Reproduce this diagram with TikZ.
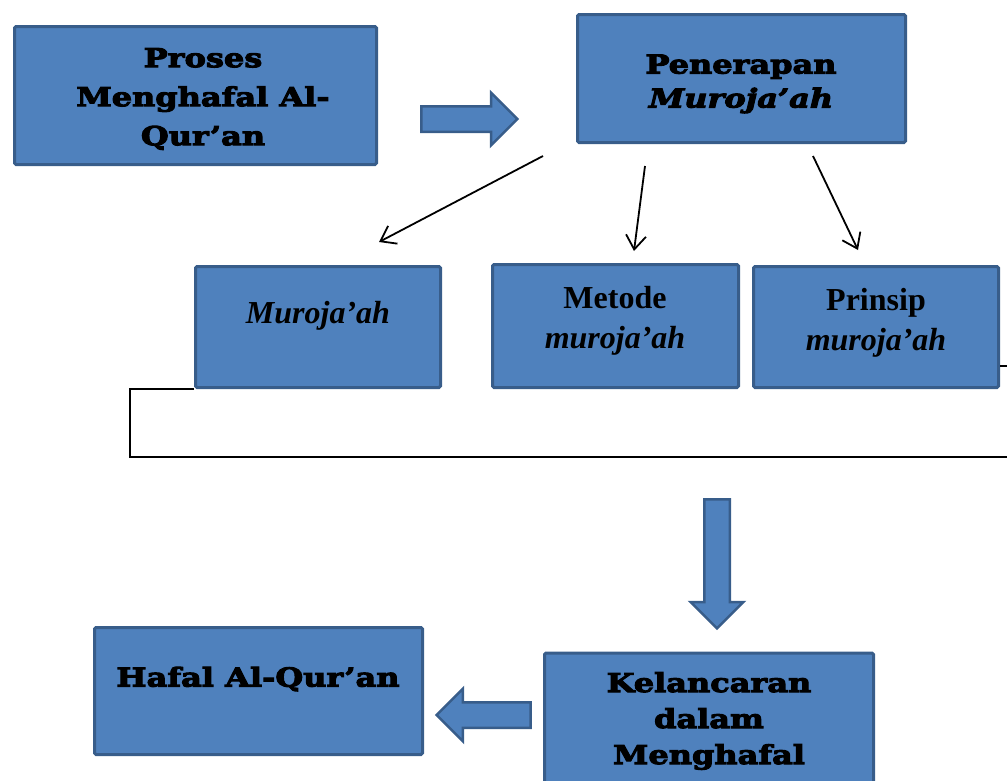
\documentclass[tikz,border=0pt]{standalone}
\usepackage{fontspec}
\setmainfont{Liberation Serif}
\newfontfamily\heavyfont[FakeStretch=1.23,FakeBold=4]{DejaVu Serif}
\usetikzlibrary{arrows.meta,shapes.arrows}
\definecolor{boxfill}{HTML}{4F81BD}
\definecolor{boxline}{HTML}{385D8A}

\begin{document}
\begin{tikzpicture}[
  x=1pt, y=-1pt,
  >={Straight Barb[length=14pt,width=20pt]},
  blockbox/.style={draw=boxline, fill=boxfill, line width=3pt, rounded corners=1.5pt, inner sep=0pt},
  heavytxt/.style={font=\heavyfont\bfseries\fontsize{26}{#1}\selectfont, align=center, inner sep=0pt},
  heavytxt/.default=38,
  timestxt/.style={font=\bfseries\fontsize{32}{40}\selectfont, align=center, inner sep=0pt},
  fatarrow/.style={single arrow, draw=boxline, fill=boxfill, line width=2.5pt, inner sep=11.5pt,
    single arrow head extend=13.5pt},
  thinarrow/.style={->, line width=1.8pt},
  bracketline/.style={line width=1.6pt}
]
  \useasboundingbox (0,0) rectangle (1007,780);

  % boxes
  \node[blockbox, minimum width=362pt, minimum height=138pt] (proses) at (195.5,95.5) {};
  \node[blockbox, minimum width=328pt, minimum height=128pt] (pener) at (741.5,78.5) {};
  \node[blockbox, minimum width=245pt, minimum height=121pt] (mur) at (318,327) {};
  \node[blockbox, minimum width=246pt, minimum height=123pt] (metode) at (615.5,326) {};
  \node[blockbox, minimum width=245pt, minimum height=121pt] (prinsip) at (876,327) {};
  \node[blockbox, minimum width=329pt, minimum height=146pt] (kelan) at (709,726) {};
  \node[blockbox, minimum width=328pt, minimum height=127pt] (hafal) at (258.5,691) {};

  % texts
  \node[heavytxt=39] (proses-t) at (203,99) {Proses\\Menghafal Al-\\Qur’an};
  \node[heavytxt=34, text depth=0pt] (pener-t) at (741,81) {Penerapan\\\itshape Muroja’ah};
  \node[timestxt] (mur-t) at (318,316) {\itshape Muroja’ah};
  \node[timestxt] (metode-t) at (615,321) {Metode\\\itshape muroja’ah};
  \node[timestxt] (prinsip-t) at (876,323) {Prinsip\\\itshape muroja’ah};
  \node[heavytxt=36] (kelan-t) at (709,721) {Kelancaran\\dalam\\Menghafal};
  \node[heavytxt] (hafal-t) at (258,679) {Hafal Al-Qur’an};

  % block arrows
  \node[fatarrow, minimum height=96pt] (fa1) at (463,119) {};
  \node[fatarrow, minimum height=129pt, shape border rotate=270] (fa2) at (717,557.5) {};
  \node[fatarrow, minimum height=94pt, shape border rotate=180] (fa3) at (490,715) {};

  % thin arrows
  \coordinate (s1) at (543,156);
  \coordinate (e1) at (379,242);
  \coordinate (s2) at (645,166);
  \coordinate (e2) at (634,251);
  \coordinate (s3) at (813,156);
  \coordinate (e3) at (858,250);
  \draw[thinarrow] (s1) -- (e1);
  \draw[thinarrow] (s2) -- (e2);
  \draw[thinarrow] (s3) -- (e3);

  % bracket
  \coordinate (bkr) at (1007,457);
  \coordinate (edge) at (1007,366);
  \draw[bracketline] (mur.south west) -- ++(-64,0) |- (bkr);
  \draw[bracketline] (prinsip.east |- edge) -- (edge);
\end{tikzpicture}
\end{document}
